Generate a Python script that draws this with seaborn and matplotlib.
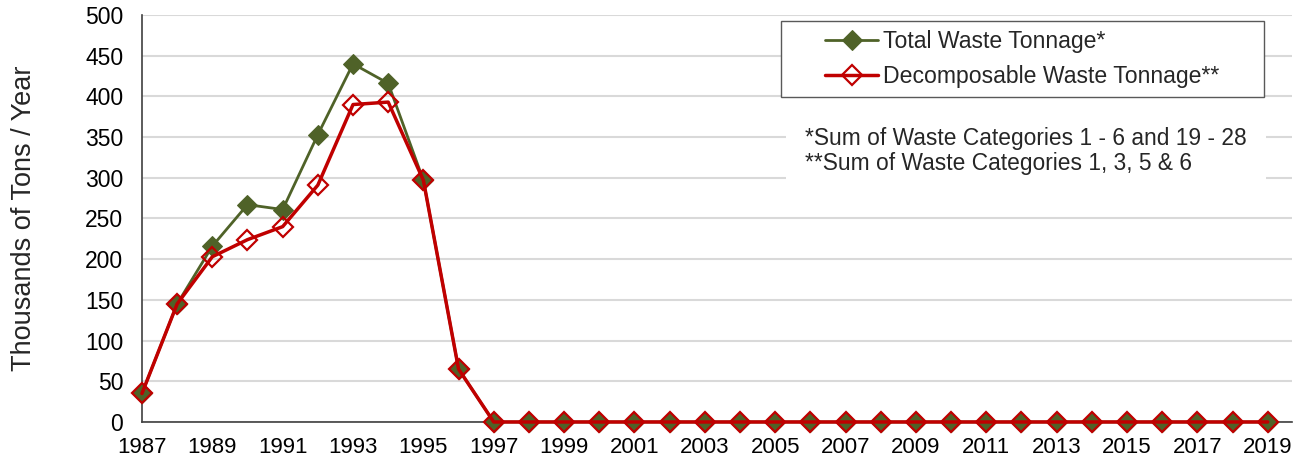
import numpy as np
import pandas as pd
import matplotlib
matplotlib.use("Agg")
import matplotlib.pyplot as plt
import seaborn as sns
from matplotlib.ticker import MultipleLocator, FixedLocator
from matplotlib.patches import Rectangle

# ----------------------------------------
# data
# ----------------------------------------
years = list(range(1987, 2020))
total_waste = [35, 145, 216, 267, 261, 353, 440, 416, 297, 65] + [0] * 23
decomp_waste = [35, 145, 203, 224, 240, 291, 390, 393, 297, 65] + [0] * 23
tick_years = years[::2]

df = pd.DataFrame({"Year": years, "Total": total_waste, "Decomp": decomp_waste})

sns.set_style("white")
plt.rcParams["font.family"] = ["Liberation Sans", "DejaVu Sans"]

green = "#4F6228"
red = "#C00000"

fig = plt.figure(figsize=(12.94, 4.63), dpi=100)
ax = fig.add_axes([0.1097, 0.0886, 0.889, 0.879])

sns.lineplot(data=df, x="Year", y="Total", ax=ax, color=green, lw=2,
             marker="D", markersize=10, markerfacecolor=green,
             markeredgecolor=green, label="Total Waste Tonnage*",
             zorder=3, clip_on=False)
sns.lineplot(data=df, x="Year", y="Decomp", ax=ax, color=red, lw=2.5,
             marker="D", markersize=10, markerfacecolor="none",
             markeredgecolor=red, markeredgewidth=1.6,
             label="Decomposable Waste Tonnage**", zorder=4, clip_on=False)

ax.set_xlim(1987, 2019.7)
ax.set_ylim(0, 500)
ax.xaxis.set_major_locator(FixedLocator(tick_years))
ax.xaxis.set_minor_locator(MultipleLocator(1))
ax.yaxis.set_major_locator(MultipleLocator(50))
ax.yaxis.set_minor_locator(MultipleLocator(10))
ax.tick_params(axis="x", which="major", direction="inout", length=10,
               width=1, colors="#404040", labelcolor="black", labelsize=16, pad=6)
ax.tick_params(axis="x", which="minor", direction="in", length=5,
               width=1, colors="#404040")
ax.tick_params(axis="y", which="major", direction="in", length=6,
               width=1, colors="#404040", labelcolor="black", labelsize=16.5, pad=13.5)
ax.tick_params(axis="y", which="minor", direction="in", length=4,
               width=1, colors="#404040")

ax.grid(axis="y", which="major", color="#D9D9D9", lw=1.5)
ax.set_axisbelow(True)
sns.despine(ax=ax)
for s in ["left", "bottom"]:
    ax.spines[s].set_color("#404040")
    ax.spines[s].set_linewidth(1.2)

ax.set_xlabel("")
ax.set_ylabel("Thousands of Tons / Year", fontsize=19.5)
ax.yaxis.set_label_coords(-0.091, 0.5)

leg = ax.legend(loc="upper left", bbox_to_anchor=(0.59, 0.975),
                fontsize=16.6, frameon=False,
                handlelength=2.3, handletextpad=0.2, borderpad=0.2,
                labelspacing=0.55, borderaxespad=0)
leg.set_zorder(6)

ax.text(0.5765, 0.725,
        "*Sum of Waste Categories 1 - 6 and 19 - 28\n**Sum of Waste Categories 1, 3, 5 & 6",
        transform=ax.transAxes, fontsize=16.4, va="top", ha="left",
        linespacing=1.1,
        bbox=dict(facecolor="white", edgecolor="none", pad=14), zorder=5)

# legend box with wide side margins, like the original
fig.canvas.draw()
bb = leg.get_window_extent()
padx, pady = 40, 4
(x0, y0), (x1, y1) = ax.transAxes.inverted().transform(
    [(bb.x0 - padx, bb.y0 - pady), (bb.x1 + padx, bb.y1 + pady)])
frame = Rectangle((x0, y0), x1 - x0, y1 - y0, transform=ax.transAxes,
                  facecolor="white", edgecolor="#595959", lw=1,
                  zorder=5.5, clip_on=False)
ax.add_patch(frame)

fig.savefig("out.png", dpi=100)
